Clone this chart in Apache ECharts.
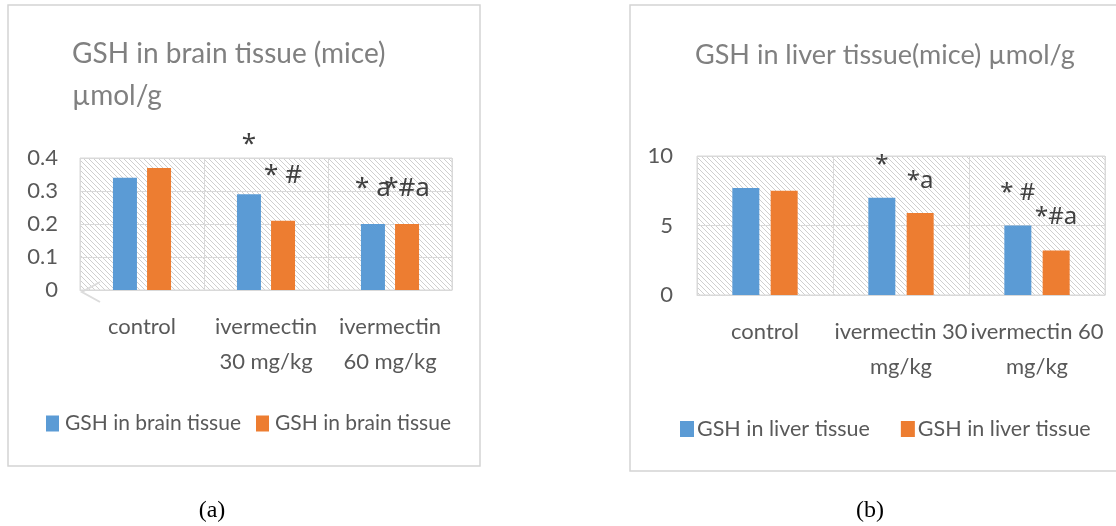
<!DOCTYPE html>
<html>
<head>
<meta charset="utf-8">
<script src="https://cdn.jsdelivr.net/npm/echarts@6/dist/echarts.min.js"></script>
<style>
    html, body { margin: 0; padding: 0; background: #fff; }
    #chart { width: 1116px; height: 526px; }
</style>
</head>
<body>
<div id="chart"></div>
<script>
// brain panel (a)
var brainCategories = ['control', 'ivermectin\n30 mg/kg', 'ivermectin\n60 mg/kg'];
var brainTicks = [0, 0.1, 0.2, 0.3, 0.4];
var brainBlue = [0.34, 0.29, 0.20];
var brainOrange = [0.37, 0.21, 0.20];
var brainBlueMarks = ['', '*', '* a'];
var brainOrangeMarks = ['', '* #', '*#a'];

// liver panel (b)
var liverCategories = ['control', 'ivermectin 30\nmg/kg', 'ivermectin 60\nmg/kg'];
var liverTicks = [0, 5, 10];
var liverBlue = [7.7, 7.0, 5.0];
var liverOrange = [7.5, 5.9, 3.2];
var liverBlueMarks = ['', '*', '* #'];
var liverOrangeMarks = ['', '*a', '*#a'];

var FONT = 'Lato';
var MARK_FONT = 'Noto Sans';
var BLUE = '#5b9bd5';
var ORANGE = '#ed7d31';
var LINE = '#d9d9d9';

// excel-like diagonal hatch for the plot area
function hatch() {
    var s = 5;
    var c = document.createElement('canvas');
    c.width = s; c.height = s;
    var g = c.getContext('2d');
    g.fillStyle = '#fff';
    g.fillRect(0, 0, s, s);
    g.strokeStyle = '#cfcfcf';
    g.lineWidth = 1;
    g.beginPath();
    g.moveTo(-1, -1); g.lineTo(s + 1, s + 1);
    g.moveTo(s - 1, -1); g.lineTo(s + 1, 1);
    g.moveTo(-1, s - 1); g.lineTo(1, s + 1);
    g.stroke();
    return { image: c, repeat: 'repeat' };
}

function marked(values, marks, lift) {
    return values.map(function (v, i) {
        return {
            value: v,
            label: { show: marks[i] !== '', formatter: marks[i], distance: lift[i] }
        };
    });
}

function catAxis(idx, data) {
    return {
        type: 'category',
        gridIndex: idx,
        data: data,
        axisLine: { lineStyle: { color: LINE, width: 1 } },
        axisTick: { show: false },
        splitLine: { show: true, lineStyle: { color: LINE, width: 1 } },
        axisLabel: {
            interval: 0, margin: 19, color: '#595959',
            fontFamily: FONT, fontSize: 22, lineHeight: 35
        }
    };
}

function valAxis(idx, ticks, margin) {
    return {
        type: 'value',
        gridIndex: idx,
        min: ticks[0],
        max: ticks[ticks.length - 1],
        interval: ticks[1] - ticks[0],
        axisLine: { show: false },
        axisTick: { show: false },
        splitLine: { lineStyle: { color: LINE, width: 1 } },
        axisLabel: { margin: margin, color: '#595959', fontFamily: FONT, fontSize: 22 }
    };
}

function barSeries(name, idx, data, color, width, fontSize) {
    return {
        name: name,
        type: 'bar',
        xAxisIndex: idx,
        yAxisIndex: idx,
        barWidth: width,
        barGap: '42%',
        itemStyle: { color: color },
        label: {
            position: 'top',
            color: '#404040',
            fontFamily: MARK_FONT,
            fontSize: fontSize,
            lineHeight: fontSize
        },
        data: data
    };
}

var chart = echarts.init(document.getElementById('chart'));
var pattern = hatch();

var option = {
    backgroundColor: '#fff',
    animation: false,
    title: [
        {
            text: 'GSH in brain tissue (mice)\nµmol/g',
            left: 72, top: 33, padding: 0,
            textStyle: { fontFamily: FONT, fontSize: 28, fontWeight: 'normal', color: '#808080', lineHeight: 42 }
        },
        {
            text: 'GSH in liver tissue(mice) µmol/g',
            left: 695, top: 34, padding: 0,
            textStyle: { fontFamily: FONT, fontSize: 27, fontWeight: 'normal', color: '#808080', lineHeight: 42 }
        }
    ],
    legend: [
        {
            data: ['GSH in brain tissue', 'GSH in brain tissue '],
            left: 46, top: 413, padding: 0,
            itemWidth: 13, itemHeight: 16, itemGap: 15,
            icon: 'rect',
            formatter: function (n) { return n.trim(); },
            textStyle: { fontFamily: FONT, fontSize: 21, color: '#595959', padding: [0, 0, 0, 1] }
        },
        {
            data: ['GSH in liver tissue', 'GSH in liver tissue '],
            left: 680, top: 418, padding: 0,
            itemWidth: 14, itemHeight: 16, itemGap: 31,
            icon: 'rect',
            formatter: function (n) { return n.trim(); },
            textStyle: { fontFamily: FONT, fontSize: 21.5, color: '#595959', padding: [0, 0, 0, -2] }
        }
    ],
    grid: [
        { left: 80, top: 158, width: 372, height: 132, show: true, backgroundColor: pattern, borderColor: LINE, borderWidth: 1 },
        { left: 697, top: 156, width: 408, height: 139, show: true, backgroundColor: pattern, borderColor: LINE, borderWidth: 1 }
    ],
    xAxis: [catAxis(0, brainCategories), catAxis(1, liverCategories)],
    yAxis: [valAxis(0, brainTicks, 22), valAxis(1, liverTicks, 24)],
    series: [
        barSeries('GSH in brain tissue', 0, marked(brainBlue, brainBlueMarks, [0, 37, 22]), BLUE, 24, 26),
        barSeries('GSH in brain tissue ', 0, marked(brainOrange, brainOrangeMarks, [0, 32, 22]), ORANGE, 24, 26),
        barSeries('GSH in liver tissue', 1, marked(liverBlue, liverBlueMarks, [0, 21, 20]), BLUE, 27, 24),
        barSeries('GSH in liver tissue ', 1, marked(liverOrange, liverOrangeMarks, [0, 20, 21]), ORANGE, 27, 24)
    ],
    graphic: [
        { type: 'rect', shape: { x: 8, y: 5, width: 472, height: 461 }, style: { fill: 'none', stroke: '#d4d4d4', lineWidth: 1.5 } },
        { type: 'rect', shape: { x: 630, y: 5, width: 500, height: 466 }, style: { fill: 'none', stroke: '#d4d4d4', lineWidth: 1.5 } },
        { type: 'polyline', shape: { points: [[100, 282], [82, 292], [100, 302]] }, style: { fill: 'none', stroke: '#dcdcdc', lineWidth: 2 } },
        { type: 'text', x: 212, y: 511, style: { text: '(a)', font: '24px "Liberation Serif"', fill: '#000', textAlign: 'center', textVerticalAlign: 'middle' } },
        { type: 'text', x: 870, y: 511, style: { text: '(b)', font: '24px "Liberation Serif"', fill: '#000', textAlign: 'center', textVerticalAlign: 'middle' } }
    ]
};
chart.setOption(option);

window.onresize = chart.resize;
</script>
</body>
</html>
